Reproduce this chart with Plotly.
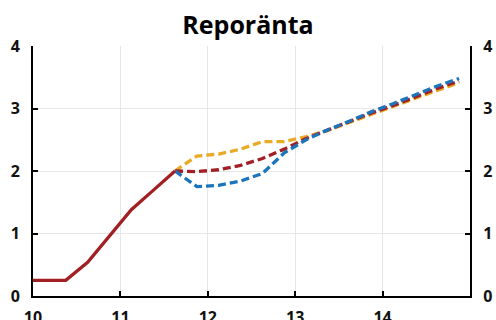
import plotly.graph_objects as go

# Quarterly positions (mid-quarter, in years)
hist_x = [9.875, 10.125, 10.375, 10.625, 10.875, 11.125, 11.375, 11.625]
hist_y = [0.25, 0.25, 0.25, 0.54, 0.96, 1.38, 1.69, 2.0]

fc_x = [11.625, 11.875, 12.125, 12.375, 12.625, 12.875, 13.125, 13.375,
        13.625, 13.875, 14.125, 14.375, 14.625, 14.875]
fc_high = [2.0, 2.24, 2.27, 2.35, 2.47, 2.47, 2.55, 2.65, 2.78, 2.91, 3.03, 3.16, 3.29, 3.41]
fc_main = [2.0, 1.99, 2.02, 2.09, 2.20, 2.35, 2.52, 2.66, 2.79, 2.93, 3.05, 3.19, 3.32, 3.44]
fc_low = [2.0, 1.75, 1.77, 1.84, 1.96, 2.29, 2.50, 2.66, 2.80, 2.95, 3.08, 3.22, 3.36, 3.48]

x_ticks = [10, 11, 12, 13, 14]
y_ticks = [0, 1, 2, 3, 4]

RED = "#A21F24"
BLUE = "#1C74BA"
YELLOW = "#E9AA25"

fig = go.Figure()
dash = "8px,4px"
fig.add_trace(go.Scatter(x=fc_x, y=fc_high, mode="lines",
                         line=dict(color=YELLOW, width=3.3, dash=dash)))
fig.add_trace(go.Scatter(x=fc_x, y=fc_main, mode="lines",
                         line=dict(color=RED, width=3.3, dash=dash)))
fig.add_trace(go.Scatter(x=fc_x, y=fc_low, mode="lines",
                         line=dict(color=BLUE, width=3.3, dash=dash)))
fig.add_trace(go.Scatter(x=hist_x, y=hist_y, mode="lines",
                         line=dict(color=RED, width=3.3)))
fig.add_trace(go.Scatter(x=[10], y=[0], yaxis="y2", mode="markers",
                         marker=dict(opacity=0), hoverinfo="skip"))

tickfont = dict(family="Open Sans", size=16, color="#111111", weight="bold")

fig.update_layout(
    width=496, height=320,
    margin=dict(l=33, r=26, t=46, b=24),
    paper_bgcolor="white", plot_bgcolor="white",
    showlegend=False,
    title=dict(text="<b>Reporänta</b>", x=0.5, xanchor="center", y=0.92, yanchor="middle",
               font=dict(family="Open Sans", size=25, color="black")),
    xaxis=dict(range=[10, 15], tickvals=x_ticks, ticktext=[str(v) for v in x_ticks],
               showgrid=True, gridcolor="#E6E6E6", gridwidth=1, automargin=False,
               showline=True, linecolor="black", linewidth=2,
               ticks="inside", ticklen=5, tickcolor="black", tickwidth=2,
               tickfont=tickfont, zeroline=False, ticklabelstandoff=6),
    yaxis=dict(range=[0, 4], tickvals=y_ticks, showgrid=True, gridcolor="#E6E6E6",
               showline=True, linecolor="black", linewidth=2, automargin=False,
               ticks="inside", ticklen=5, tickcolor="black", tickwidth=2,
               tickfont=tickfont, zeroline=False, ticklabelstandoff=8),
    yaxis2=dict(range=[0, 4], tickvals=y_ticks, overlaying="y", side="right",
                showgrid=False, showline=True, linecolor="black", linewidth=2,
                automargin=False,
                ticks="inside", ticklen=5, tickcolor="black", tickwidth=2,
                tickfont=tickfont, zeroline=False, ticklabelstandoff=8),
)

fig.write_html("out.html")
